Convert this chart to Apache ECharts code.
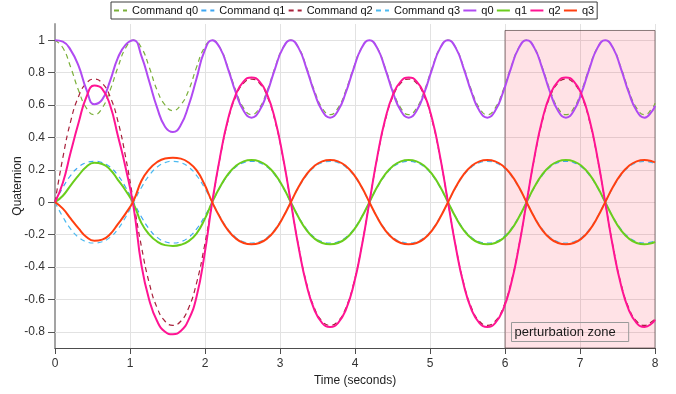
<!DOCTYPE html>
<html><head><meta charset="utf-8">
<script src="https://cdn.jsdelivr.net/npm/echarts@6/dist/echarts.min.js"></script>
<style>html,body{margin:0;padding:0;background:#fff}#c{width:676px;height:394px}</style>
</head><body><div id="c"></div>
<script>
// sample times (s): one sample every tenth of the 1.048 s q0 period, plus the end point
const time = [0,0.1048,0.2096,0.3144,0.4192,0.524,0.6288,0.7336,0.8384,0.9432,
 1.048,1.1528,1.2576,1.3624,1.4672,1.572,1.6768,1.7816,1.8864,1.9912,
 2.096,2.2008,2.3056,2.4104,2.5152,2.62,2.7248,2.8296,2.9344,3.0392,
 3.144,3.2488,3.3536,3.4584,3.5632,3.668,3.7728,3.8776,3.9824,4.0872,
 4.192,4.2968,4.4016,4.5064,4.6112,4.716,4.8208,4.9256,5.0304,5.1352,
 5.24,5.3448,5.4496,5.5544,5.6592,5.764,5.8688,5.9736,6.0784,6.1832,
 6.288,6.3928,6.4976,6.6024,6.7072,6.812,6.9168,7.0216,7.1264,7.2312,
 7.336,7.4408,7.5456,7.6504,7.7552,7.86,7.9648,8];

const cmdQ0 = [1,0.953,0.832,0.690,0.581,0.540,0.581,0.690,0.832,0.953,
 1,0.953,0.832,0.690,0.600,0.565,0.600,0.690,0.832,0.953,
 1,0.953,0.832,0.690,0.581,0.540,0.581,0.690,0.832,0.953,
 1,0.953,0.832,0.690,0.581,0.540,0.581,0.690,0.832,0.953,
 1,0.953,0.832,0.690,0.581,0.540,0.581,0.690,0.832,0.953,
 1,0.953,0.832,0.690,0.581,0.540,0.581,0.690,0.832,0.953,
 1,0.953,0.832,0.690,0.581,0.540,0.581,0.690,0.832,0.953,
 1,0.953,0.832,0.690,0.581,0.540,0.581,0.611];

const cmdQ1 = [0,0.091,0.166,0.217,0.244,0.252,0.244,0.217,0.166,0.091,
 0,-0.091,-0.166,-0.217,-0.244,-0.252,-0.244,-0.217,-0.166,-0.091,
 0,0.091,0.166,0.217,0.244,0.252,0.244,0.217,0.166,0.091,
 0,-0.091,-0.166,-0.217,-0.244,-0.252,-0.244,-0.217,-0.166,-0.091,
 0,0.091,0.166,0.217,0.244,0.252,0.244,0.217,0.166,0.091,
 0,-0.091,-0.166,-0.217,-0.244,-0.252,-0.244,-0.217,-0.166,-0.091,
 0,0.091,0.166,0.217,0.244,0.252,0.244,0.217,0.166,0.091,
 0,-0.091,-0.166,-0.217,-0.244,-0.252,-0.244,-0.237];

const cmdQ2 = [0,0.275,0.501,0.653,0.735,0.760,0.735,0.653,0.501,0.275,
 0,-0.275,-0.501,-0.653,-0.735,-0.760,-0.735,-0.653,-0.501,-0.275,
 0,0.275,0.501,0.653,0.735,0.760,0.735,0.653,0.501,0.275,
 0,-0.275,-0.501,-0.653,-0.735,-0.760,-0.735,-0.653,-0.501,-0.275,
 0,0.275,0.501,0.653,0.735,0.760,0.735,0.653,0.501,0.275,
 0,-0.275,-0.501,-0.653,-0.735,-0.760,-0.735,-0.653,-0.501,-0.275,
 0,0.275,0.501,0.653,0.735,0.760,0.735,0.653,0.501,0.275,
 0,-0.275,-0.501,-0.653,-0.735,-0.760,-0.735,-0.715];

const cmdQ3 = [0,-0.091,-0.166,-0.217,-0.244,-0.252,-0.244,-0.217,-0.166,-0.091,
 0,0.091,0.166,0.217,0.244,0.252,0.244,0.217,0.166,0.091,
 0,-0.091,-0.166,-0.217,-0.244,-0.252,-0.244,-0.217,-0.166,-0.091,
 0,0.091,0.166,0.217,0.244,0.252,0.244,0.217,0.166,0.091,
 0,-0.091,-0.166,-0.217,-0.244,-0.252,-0.244,-0.217,-0.166,-0.091,
 0,0.091,0.166,0.217,0.244,0.252,0.244,0.217,0.166,0.091,
 0,-0.091,-0.166,-0.217,-0.244,-0.252,-0.244,-0.217,-0.166,-0.091,
 0,0.091,0.166,0.217,0.244,0.252,0.244,0.237];

const q0 = [1,0.991,0.939,0.841,0.695,0.605,0.633,0.748,0.891,0.973,
 1,0.902,0.743,0.582,0.466,0.433,0.476,0.597,0.762,0.931,
 1,0.951,0.825,0.677,0.564,0.522,0.564,0.677,0.825,0.951,
 1,0.951,0.825,0.677,0.564,0.522,0.564,0.677,0.825,0.951,
 1,0.951,0.825,0.677,0.564,0.522,0.564,0.677,0.825,0.951,
 1,0.951,0.825,0.677,0.564,0.522,0.564,0.677,0.825,0.951,
 1,0.951,0.825,0.677,0.564,0.522,0.564,0.677,0.825,0.951,
 1,0.951,0.825,0.677,0.564,0.522,0.564,0.595];

const q1 = [0,0.040,0.104,0.165,0.219,0.243,0.236,0.202,0.138,0.071,
 -0.010,-0.129,-0.200,-0.243,-0.265,-0.270,-0.263,-0.240,-0.194,-0.109,
 0,0.095,0.172,0.224,0.252,0.260,0.252,0.224,0.172,0.095,
 0,-0.095,-0.172,-0.224,-0.252,-0.260,-0.252,-0.224,-0.172,-0.095,
 0,0.095,0.172,0.224,0.252,0.260,0.252,0.224,0.172,0.095,
 0,-0.095,-0.172,-0.224,-0.252,-0.260,-0.252,-0.224,-0.172,-0.095,
 0,0.095,0.172,0.224,0.252,0.260,0.252,0.224,0.172,0.095,
 0,-0.095,-0.172,-0.224,-0.252,-0.260,-0.252,-0.245];

const q2 = [0,0.12,0.31,0.49,0.65,0.72,0.70,0.60,0.41,0.21,
 -0.03,-0.39,-0.605,-0.735,-0.80,-0.815,-0.795,-0.725,-0.585,-0.33,
 0,0.280,0.510,0.664,0.746,0.770,0.746,0.664,0.510,0.280,
 0,-0.280,-0.510,-0.664,-0.746,-0.770,-0.746,-0.664,-0.510,-0.280,
 0,0.280,0.510,0.664,0.746,0.770,0.746,0.664,0.510,0.280,
 0,-0.280,-0.510,-0.664,-0.746,-0.770,-0.746,-0.664,-0.510,-0.280,
 0,0.280,0.510,0.664,0.746,0.770,0.746,0.664,0.510,0.280,
 0,-0.280,-0.510,-0.664,-0.746,-0.770,-0.746,-0.725];

const q3 = [0,-0.040,-0.102,-0.162,-0.215,-0.238,-0.231,-0.198,-0.135,-0.069,
 0.010,0.132,0.204,0.248,0.270,0.275,0.269,0.245,0.198,0.112,
 0,-0.095,-0.172,-0.224,-0.252,-0.260,-0.252,-0.224,-0.172,-0.095,
 0,0.095,0.172,0.224,0.252,0.260,0.252,0.224,0.172,0.095,
 0,-0.095,-0.172,-0.224,-0.252,-0.260,-0.252,-0.224,-0.172,-0.095,
 0,0.095,0.172,0.224,0.252,0.260,0.252,0.224,0.172,0.095,
 0,-0.095,-0.172,-0.224,-0.252,-0.260,-0.252,-0.224,-0.172,-0.095,
 0,0.095,0.172,0.224,0.252,0.260,0.252,0.245];

const yTicks = [-0.8,-0.6,-0.4,-0.2,0,0.2,0.4,0.6,0.8,1];
const yMin = -0.9, yMax = 1.1;
const xMin = 0, xMax = 8, xStep = 1;
const zoneStart = 6, zoneEnd = 8, zoneBottom = -0.9, zoneTop = 1.06;
const zoneLabel = 'perturbation zone';
const seriesNames = ['Command q0','Command q1','Command q2','Command q3','q0','q1','q2','q3'];

const FONT = 'Liberation Sans, Arial, Helvetica, sans-serif';

function mk(name, arr, color, width, dashed) {
  return {
    name: name, type: 'line', data: time.map((t, i) => [t, arr[i]]),
    symbol: 'none', showSymbol: false, smooth: 0.5,
    lineStyle: { color: color, width: width, type: dashed ? [5, 4] : 'solid' },
    itemStyle: { color: color },
    emphasis: { disabled: true }, animation: false
  };
}

const s0 = mk(seriesNames[0], cmdQ0, '#7bb03a', 1.2, true);
s0.markLine = {
  silent: true, z: 1, symbol: ['none', 'none'], label: { show: false },
  lineStyle: { color: '#e2e2e2', width: 1, type: 'solid' },
  emphasis: { disabled: true }, animation: false,
  data: yTicks.map(v => ({ yAxis: v }))
};
s0.markArea = {
  silent: true, z: 1.5,
  itemStyle: { color: 'rgba(255,30,60,0.13)', borderColor: 'rgba(90,70,70,0.7)', borderWidth: 1 },
  label: {
    show: true, position: 'insideBottomLeft', distance: 7, formatter: zoneLabel,
    color: '#1a1a1a', fontSize: 13, fontFamily: FONT,
    borderColor: '#9a9a9a', borderWidth: 1, padding: [3, 13, 3, 3]
  },
  emphasis: { disabled: true },
  data: [[{ xAxis: zoneStart, yAxis: zoneBottom }, { xAxis: zoneEnd, yAxis: zoneTop }]]
};

const option = {
  animation: false,
  backgroundColor: '#ffffff',
  textStyle: { fontFamily: FONT },
  grid: { left: 55, right: 21, top: 24, bottom: 46, containLabel: false, outerBoundsMode: 'none' },
  legend: {
    data: seriesNames, top: 2, left: 111, orient: 'horizontal',
    padding: [3, 3, 3, 2], itemGap: 2.3, itemWidth: 13, itemHeight: 10,
    itemStyle: { opacity: 0 },
    borderColor: '#3c3c3c', borderWidth: 1, backgroundColor: '#fff',
    textStyle: { fontSize: 11, color: '#111', fontFamily: FONT }
  },
  xAxis: {
    type: 'value', min: xMin, max: xMax, interval: xStep,
    axisLine: { show: true, onZero: false, lineStyle: { color: '#4d4d4d', width: 1 } },
    axisTick: { show: true, length: 6, lineStyle: { color: '#4d4d4d' } },
    axisLabel: { color: '#333', fontSize: 12, margin: 10, fontFamily: FONT },
    splitLine: { show: true, lineStyle: { color: '#e2e2e2', width: 1 } },
    name: 'Time (seconds)', nameLocation: 'middle', nameGap: 27, nameMoveOverlap: false,
    nameTextStyle: { color: '#222', fontSize: 12, fontFamily: FONT }
  },
  yAxis: {
    type: 'value', min: yMin, max: yMax, splitNumber: 10,
    axisLine: { show: true, onZero: false, lineStyle: { color: '#a3a3a3', width: 2 } },
    axisTick: { show: true, length: 7, customValues: yTicks, lineStyle: { color: '#555' } },
    axisLabel: { customValues: yTicks, color: '#333', fontSize: 12, margin: 10, fontFamily: FONT },
    splitLine: { show: false },
    name: 'Quaternion', nameLocation: 'middle', nameGap: 31, nameMoveOverlap: false,
    nameTextStyle: { color: '#222', fontSize: 12, fontFamily: FONT }
  },
  series: [
    s0,
    mk(seriesNames[1], cmdQ1, '#3da6f2', 1.2, true),
    mk(seriesNames[2], cmdQ2, '#a8203a', 1.2, true),
    mk(seriesNames[3], cmdQ3, '#4cbaf0', 1.2, true),
    mk(seriesNames[4], q0, '#b04af2', 2, false),
    mk(seriesNames[5], q1, '#6acd1c', 2, false),
    mk(seriesNames[6], q2, '#ff1493', 2, false),
    mk(seriesNames[7], q3, '#ff3f10', 2, false)
  ]
};

const chart = echarts.init(document.getElementById('c'), null, { renderer: 'canvas' });
chart.setOption(option);
</script>
</body></html>
